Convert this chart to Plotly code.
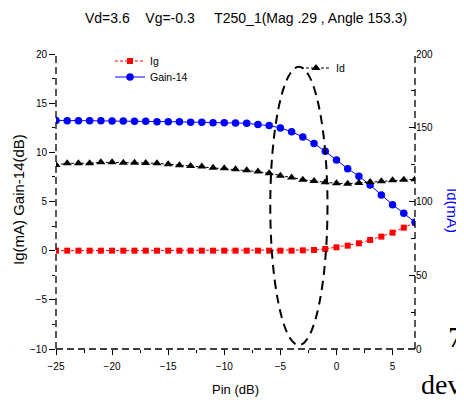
import plotly.graph_objects as go

# ---------------- data ----------------
pin = list(range(-25, 8))
ig = [0.0] * 22 + [0.03, 0.07, 0.17, 0.34, 0.51, 0.75, 1.09, 1.43, 1.83, 2.34, 2.85]
gain = [13.25, 13.22, 13.22, 13.2, 13.2, 13.18, 13.18, 13.15, 13.15, 13.12, 13.12,
        13.1, 13.07, 13.05, 13.02, 13.0, 12.98, 12.96,
        12.82, 12.72, 12.48, 12.1, 11.57, 10.9, 10.1, 9.23, 8.34, 7.57, 6.68, 5.67,
        4.68, 3.8, 2.89]
id_ma = [124.8, 125.9, 125.9, 125.9, 126.6, 126.6, 126.3, 126.3, 126.1, 125.9, 125.3,
         124.6, 124.1, 123.7, 122.9, 122.5, 121.9, 121.2,
         120.3, 119.1, 117.5, 116.2, 114.8, 113.9, 113.1, 112.3, 112.1, 112.6, 113.3,
         113.7, 114.4, 114.8, 115.1]
ellipse_x = [-5.9, -0.8]
ellipse_y = [-9.6, 18.7]

sp4 = "&nbsp;" * 4
sp5 = "&nbsp;" * 5
title_text = "Vd=3.6" + sp4 + "Vg=-0.3" + sp5 + "T250_1(Mag .29 , Angle 153.3)"

# ---------------- layout geometry ----------------
# page body has an 8px margin, so the figure starts at (8, 8) in the screenshot
OFF = 8
W, H = 464 - OFF, 403 - OFF
PL, PR, PT, PB = 56, 415, 54, 349      # plot area in screenshot pixels
PW, PH = PR - PL, PB - PT
L, T = PL - OFF, PT - OFF
R, B = W - L - PW, H - T - PH


def px_x(p):
    return (p - PL) / PW


def px_y(p):
    return (PB - p) / PH


FONT = "Liberation Sans, Arial, sans-serif"
SERIF = "Liberation Serif, Times New Roman, serif"

fig = go.Figure()
fig.add_trace(go.Scatter(x=pin, y=ig, name="Ig", mode="lines+markers",
                         line=dict(color="#ff0000", width=1, dash="3px,2px"),
                         marker=dict(symbol="square", size=6, color="#ff0000")))
fig.add_trace(go.Scatter(x=pin, y=gain, name="Gain-14", mode="lines+markers",
                         legend="legend3",
                         line=dict(color="#0000ff", width=1),
                         marker=dict(symbol="circle", size=7.5, color="#0000ff")))
fig.add_trace(go.Scatter(x=pin, y=id_ma, name="Id", mode="lines+markers",
                         yaxis="y2", legend="legend2",
                         line=dict(color="#000000", width=1, dash="3px,2px"),
                         marker=dict(symbol="triangle-up", size=8, color="#000000")))

axis_dash = "7px,4px"
shapes = [
    dict(type="line", xref="paper", yref="paper", x0=0, x1=0, y0=0, y1=1,
         line=dict(color="black", width=1.3, dash=axis_dash)),
    dict(type="line", xref="paper", yref="paper", x0=1, x1=1, y0=0, y1=1,
         line=dict(color="black", width=1.3, dash=axis_dash)),
    dict(type="line", xref="paper", yref="paper", x0=0, x1=1, y0=0, y1=0,
         line=dict(color="black", width=1.3, dash=axis_dash)),
    dict(type="circle", xref="x", yref="y", x0=ellipse_x[0], x1=ellipse_x[1],
         y0=ellipse_y[0], y1=ellipse_y[1],
         line=dict(color="black", width=2, dash="9px,6px")),
]

annotations = [
    dict(text=title_text, xref="paper", yref="paper", x=px_x(246), y=px_y(18),
         showarrow=False, font=dict(family=FONT, size=14, color="black"),
         xanchor="center", yanchor="middle"),
    dict(text="Pin (dB)", xref="paper", yref="paper", x=px_x(235), y=px_y(389),
         showarrow=False, font=dict(family=FONT, size=13, color="black"),
         xanchor="center", yanchor="middle"),
    dict(text="Ig(mA) Gain-14(dB)", xref="paper", yref="paper", x=px_x(18), y=px_y(200),
         textangle=-90, showarrow=False, font=dict(family=FONT, size=15, color="black"),
         xanchor="center", yanchor="middle"),
    dict(text="Id(mA)", xref="paper", yref="paper", x=px_x(453), y=px_y(210),
         textangle=90, showarrow=False, font=dict(family=FONT, size=15, color="#0000ff"),
         xanchor="center", yanchor="middle"),
    dict(text="g.", xref="paper", yref="paper", x=px_x(12), y=px_y(338),
         showarrow=False, font=dict(family=SERIF, size=26, color="black"),
         xanchor="right", yanchor="middle"),
    dict(text="7", xref="paper", yref="paper", x=px_x(465), y=px_y(336),
         showarrow=False, font=dict(family=SERIF, size=30, color="black"),
         xanchor="right", yanchor="middle"),
    dict(text="dev", xref="paper", yref="paper", x=px_x(419), y=px_y(384),
         showarrow=False, font=dict(family=SERIF, size=28, color="black"),
         xanchor="left", yanchor="middle"),
]

tickfont = dict(family=FONT, size=10, color="black")
legfont = dict(family=FONT, size=10.5, color="black")


def leg(xp, yp):
    return dict(x=px_x(xp), y=px_y(yp), xanchor="left", yanchor="middle",
                bgcolor="rgba(0,0,0,0)", borderwidth=0, itemwidth=30, font=legfont)


fig.update_layout(
    template="none",
    width=W, height=H,
    margin=dict(l=L, r=R, t=T, b=B, pad=0, autoexpand=False),
    paper_bgcolor="white", plot_bgcolor="white",
    xaxis=dict(range=[-25, 7], dtick=5, tick0=0, showgrid=False, zeroline=False,
               automargin=False,
               showline=False, ticks="outside", ticklen=5, tickwidth=1, tickcolor="black",
               minor=dict(ticks="outside", ticklen=3, dtick=2.5, tick0=0, tickcolor="black"),
               tickfont=tickfont, ticklabelstandoff=3),
    yaxis=dict(range=[-10, 20], dtick=5, tick0=0, showgrid=False, zeroline=False,
               automargin=False,
               showline=False, ticks="outside", ticklen=6, tickwidth=1, tickcolor="black",
               minor=dict(ticks="outside", ticklen=3, dtick=2.5, tick0=0, tickcolor="black"),
               tickfont=tickfont),
    yaxis2=dict(range=[0, 200], dtick=50, tick0=0, overlaying="y", side="right",
                automargin=False,
                showgrid=False, zeroline=False, showline=False,
                ticks="inside", ticklen=6, tickwidth=1, tickcolor="black",
                minor=dict(ticks="inside", ticklen=4, dtick=25, tick0=0, tickcolor="black"),
                tickfont=tickfont),
    legend=leg(110, 61),
    legend3=leg(110, 77),
    legend2=leg(296, 68),
    shapes=shapes,
    annotations=annotations,
    showlegend=True,
)

fig.write_html("out.html")
